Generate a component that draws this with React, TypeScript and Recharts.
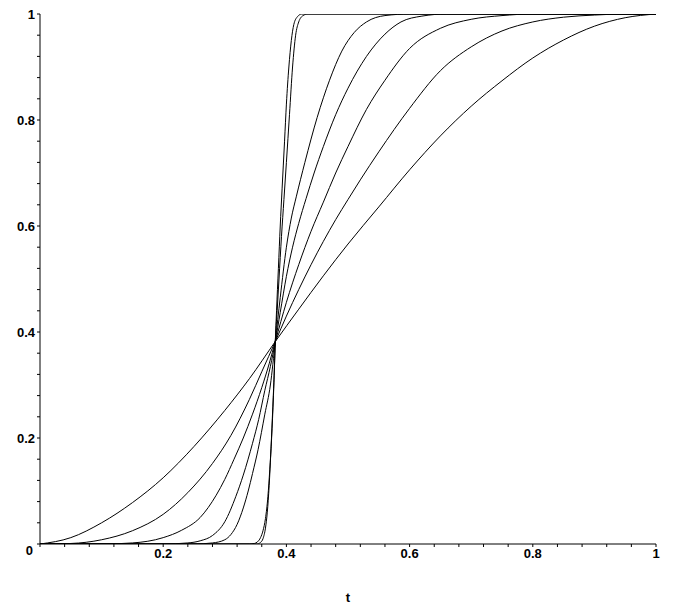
import React from 'react';
import { LineChart, Line, XAxis, YAxis } from 'recharts';

// points are [t, value]
const curveA: [number, number][] = [
  [0, 0], [0.05, 0.012], [0.1, 0.04], [0.15, 0.078], [0.2, 0.125], [0.25, 0.184], [0.3, 0.252], [0.34, 0.312],
  [0.382, 0.382], [0.42, 0.443], [0.46, 0.506], [0.5, 0.566], [0.55, 0.636], [0.6, 0.706], [0.65, 0.77],
  [0.7, 0.826], [0.75, 0.874], [0.8, 0.917], [0.85, 0.951], [0.9, 0.977], [0.95, 0.993], [1, 1],
];
const curveB: [number, number][] = [
  [0, 0], [0.05, 0.001], [0.1, 0.008], [0.15, 0.025], [0.2, 0.056], [0.24, 0.097], [0.28, 0.152], [0.31, 0.205],
  [0.34, 0.273], [0.36, 0.325], [0.382, 0.382], [0.4, 0.43], [0.42, 0.48], [0.44, 0.527], [0.46, 0.571],
  [0.48, 0.612], [0.5, 0.65], [0.52, 0.687], [0.55, 0.74], [0.6, 0.822], [0.65, 0.893], [0.7, 0.938],
  [0.75, 0.968], [0.8, 0.985], [0.85, 0.994], [0.9, 0.998], [0.95, 1], [1, 1],
];
const curveC: [number, number][] = [
  [0, 0], [0.1, 0], [0.15, 0.002], [0.2, 0.012], [0.23, 0.026], [0.26, 0.05], [0.286, 0.092], [0.3, 0.122],
  [0.315, 0.16], [0.33, 0.2], [0.345, 0.245], [0.36, 0.295], [0.372, 0.34], [0.382, 0.382], [0.4, 0.456],
  [0.42, 0.527], [0.44, 0.59], [0.46, 0.645], [0.48, 0.7], [0.5, 0.75], [0.53, 0.82], [0.56, 0.875],
  [0.6, 0.935], [0.65, 0.973], [0.7, 0.99], [0.75, 0.997], [0.8, 1], [1, 1],
];
const curveD: [number, number][] = [
  [0, 0], [0.2, 0], [0.24, 0.002], [0.26, 0.006], [0.28, 0.016], [0.3, 0.042], [0.318, 0.09], [0.33, 0.13],
  [0.345, 0.19], [0.355, 0.235], [0.365, 0.29], [0.374, 0.335], [0.382, 0.382], [0.39, 0.437], [0.4, 0.505],
  [0.41, 0.56], [0.42, 0.605], [0.432, 0.652], [0.445, 0.7], [0.46, 0.75], [0.48, 0.81], [0.5, 0.86],
  [0.53, 0.92], [0.56, 0.962], [0.586, 0.985], [0.62, 0.996], [0.66, 1], [1, 1],
];
const curveE: [number, number][] = [
  [0, 0], [0.25, 0], [0.28, 0.002], [0.3, 0.008], [0.31, 0.018], [0.32, 0.037], [0.33, 0.068], [0.338, 0.1],
  [0.345, 0.133], [0.354, 0.178], [0.365, 0.245], [0.374, 0.3], [0.382, 0.382], [0.39, 0.465], [0.4, 0.56],
  [0.408, 0.615], [0.416, 0.655], [0.43, 0.72], [0.45, 0.805], [0.47, 0.875], [0.49, 0.93], [0.51, 0.965],
  [0.53, 0.985], [0.56, 0.997], [0.6, 1], [1, 1],
];
const curveF: [number, number][] = [
  [0, 0], [0.34, 0], [0.348, 0.001], [0.353, 0.004], [0.358, 0.012], [0.362, 0.025], [0.366, 0.048],
  [0.37, 0.09], [0.373, 0.14], [0.376, 0.2], [0.379, 0.28], [0.382, 0.382], [0.385, 0.44], [0.388, 0.5],
  [0.392, 0.58], [0.396, 0.65], [0.4, 0.72], [0.405, 0.81], [0.41, 0.9], [0.415, 0.96], [0.42, 0.985],
  [0.427, 0.997], [0.435, 1], [1, 1],
];
const curveG: [number, number][] = [
  [0, 0], [0.352, 0], [0.358, 0.003], [0.362, 0.01], [0.366, 0.03], [0.369, 0.06], [0.372, 0.11],
  [0.375, 0.18], [0.378, 0.26], [0.3805, 0.33], [0.382, 0.382], [0.384, 0.44], [0.387, 0.52], [0.39, 0.6],
  [0.393, 0.67], [0.397, 0.76], [0.4, 0.83], [0.404, 0.9], [0.408, 0.95], [0.412, 0.98], [0.418, 0.995],
  [0.425, 1], [1, 1],
];

const curves = [curveA, curveB, curveC, curveD, curveE, curveF, curveG];

const axisTicks = [
  0, 0.04, 0.08, 0.12, 0.16, 0.2, 0.24, 0.28, 0.32, 0.36, 0.4, 0.44, 0.48, 0.52, 0.56,
  0.6, 0.64, 0.68, 0.72, 0.76, 0.8, 0.84, 0.88, 0.92, 0.96, 1,
];
const majorLabels: Record<string, string> = {
  '0': '0', '0.2': '0.2', '0.4': '0.4', '0.6': '0.6', '0.8': '0.8', '1': '1',
};

const labelFont = { fontFamily: '"Liberation Sans", Arial, sans-serif', fontWeight: 700, fontSize: 13, fill: '#000' };

const XTick = (props: any) => {
  const { x, y, payload } = props;
  const label = majorLabels[String(payload.value)];
  if (!label || payload.value === 0) return <g />;
  return (
    <text x={x} y={y} dy={9} textAnchor="middle" style={labelFont}>{label}</text>
  );
};

const YTick = (props: any) => {
  const { x, y, payload } = props;
  const label = majorLabels[String(payload.value)];
  if (!label) return <g />;
  const isZero = payload.value === 0;
  return (
    <text x={x} y={y} dx={isZero ? -2 : 0} dy={isZero ? 11 : 4.5} textAnchor="end" style={labelFont}>{label}</text>
  );
};

export default function App() {
  return (
    <div style={{ position: 'absolute', left: 0, top: 0, width: 678, height: 606, background: '#fff' }}>
      <LineChart width={678} height={606} margin={{ top: 14, right: 22, bottom: 0, left: 0 }}>
        <XAxis
          type="number"
          dataKey="t"
          domain={[0, 1]}
          ticks={axisTicks}
          interval={0}
          tick={<XTick />}
          tickSize={3}
          height={62}
          stroke="#000"
          axisLine={{ stroke: '#000' }}
          tickLine={{ stroke: '#000' }}
          allowDataOverflow
          label={{ value: 't', position: 'insideBottom', offset: 4, style: labelFont }}
        />
        <YAxis
          type="number"
          domain={[0, 1]}
          ticks={axisTicks}
          interval={0}
          tick={<YTick />}
          tickSize={3}
          width={40}
          stroke="#000"
          axisLine={{ stroke: '#000' }}
          tickLine={{ stroke: '#000' }}
          allowDataOverflow
        />
        {curves.map((pts, i) => (
          <Line
            key={i}
            data={pts.map(([t, v]) => ({ t, v }))}
            dataKey="v"
            type="monotone"
            stroke="#000"
            strokeWidth={1}
            dot={false}
            activeDot={false}
            isAnimationActive={false}
          />
        ))}
      </LineChart>
    </div>
  );
}
